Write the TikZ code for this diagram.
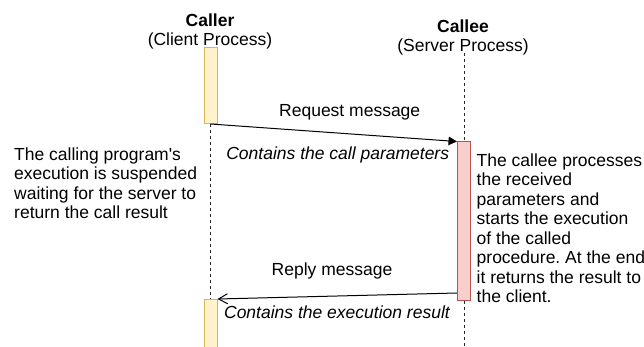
\documentclass[tikz,border=0pt]{standalone}
\usepackage{fontspec}
\setmainfont{Liberation Sans}[Ligatures=TeXOff]
\usetikzlibrary{arrows.meta}
\definecolor{callerfill}{HTML}{FFF2CC}
\definecolor{callerdraw}{HTML}{D6B656}
\definecolor{calleefill}{HTML}{F8CECC}
\definecolor{calleedraw}{HTML}{B85450}
\begin{document}
\frenchspacing
\begin{tikzpicture}[x=1pt,y=-1pt,
  txt/.style={font=\fontsize{17.5}{19.5}\selectfont, inner sep=0pt, text=black},
  itxt/.style={txt, font=\fontsize{17.5}{19.5}\selectfont\itshape},
  callerbar/.style={draw=callerdraw, fill=callerfill, line width=1pt, minimum width=13pt, inner sep=0pt},
  calleebar/.style={draw=calleedraw, fill=calleefill, line width=1pt, minimum width=13pt, inner sep=0pt},
  lifeline/.style={draw=black!85, line width=1pt, dash pattern=on 3pt off 3pt},
  reqmsg/.style={draw=black, line width=1pt, -{Triangle[length=8.5pt,width=8.5pt]}},
  repmsg/.style={draw=black, line width=1pt, -{Straight Barb[length=9pt,width=10pt]}}]
\useasboundingbox (0,0) rectangle (644,347);
\fill[white] (0,0) rectangle (644,347);
% titles
\node[txt, align=center, anchor=north] (caller) at (210,13.5) {\textbf{Caller}\\(Client Process)};
\node[txt, align=center, anchor=north] (callee) at (463,19.2) {\textbf{Callee}\\(Server Process)};
% activation bars
\node[callerbar, minimum height=76pt, anchor=north] (cb1) at (210.5,47) {};
\node[callerbar, minimum height=60pt, anchor=north] (cb2) at (210.5,299) {};
\node[calleebar, minimum height=158.5pt, anchor=north] (sb) at (464,141.5) {};
% lifelines
\coordinate (ctop) at (464,53);
\coordinate (cbot) at (464,350);
\draw[lifeline] (cb1.south) -- (cb2.north);
\draw[lifeline] (ctop) -- (sb.north);
\draw[lifeline] (sb.south) -- (cbot);
% messages
\draw[reqmsg] (cb1.south) -- (sb.north west);
\draw[repmsg] ([yshift=8pt]sb.south west) -- (cb2.north east);
% labels
\node[txt, anchor=base] (reqlbl) at (349.7,116.5) {Request message};
\node[itxt, anchor=base east] (reqsub) at (449.3,160) {Contains the call parameters};
\node[txt, anchor=base] (replbl) at (332,275.7) {Reply message};
\node[itxt, anchor=base east] (repsub) at (450,318.3) {Contains the execution result};
% notes
\node[txt, align=left, anchor=north west] (leftnote) at (14,147.4)
  {The calling program's\\execution is suspended\\waiting for the server to\\return the call result};
\node[txt, align=left, anchor=north west] (rightnote) at (476.5,153.2)
  {The callee processes\\the received\\parameters and\\starts the execution\\of the called\\procedure. At the end\\it returns the result to\\the client.};
\end{tikzpicture}
\end{document}
